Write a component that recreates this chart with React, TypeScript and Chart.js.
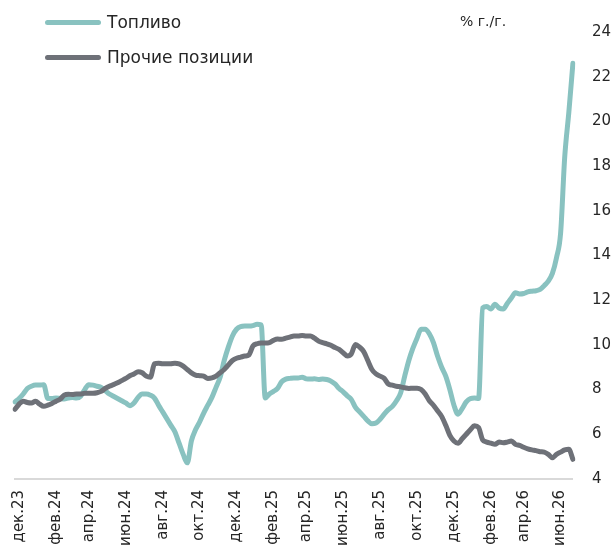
import React, { useEffect, useRef } from 'react';
import { Chart, registerables } from 'chart.js';

Chart.register(...registerables);

// Weekly observations, % y/y
const fuel = [
  7.45, 7.6, 7.8, 8.05, 8.15, 8.2, 8.2, 8.22, 7.6, 7.6,
  7.62, 7.6, 7.58, 7.62, 7.65, 7.62, 7.7, 8.0, 8.22, 8.2,
  8.15, 8.1, 7.95, 7.8, 7.7, 7.6, 7.5, 7.4, 7.28, 7.4,
  7.65, 7.8, 7.8, 7.75, 7.62, 7.3, 7.0, 6.7, 6.4, 6.1,
  5.6, 5.1, 4.72, 5.7, 6.2, 6.55, 6.95, 7.3, 7.65, 8.1,
  8.55, 9.3, 9.9, 10.4, 10.7, 10.82, 10.84, 10.84, 10.86, 10.92,
  10.9, 7.62, 7.8, 7.92, 8.05, 8.35, 8.47, 8.5, 8.52, 8.52,
  8.55, 8.48, 8.47, 8.48, 8.45, 8.47, 8.45, 8.38, 8.25, 8.05,
  7.9, 7.72, 7.55, 7.2, 7.0, 6.8, 6.6, 6.47, 6.5, 6.67,
  6.9, 7.1, 7.25, 7.5, 7.85, 8.6, 9.3, 9.85, 10.3, 10.7,
  10.7, 10.5, 10.1, 9.5, 9.0, 8.6, 8.0, 7.3, 6.9, 7.15,
  7.45, 7.6, 7.62, 7.6, 11.65, 11.72, 11.6, 11.82, 11.65, 11.6,
  11.85, 12.1, 12.33, 12.28, 12.3, 12.37, 12.4, 12.42, 12.48, 12.65,
  12.85, 13.2, 13.9, 15.0, 18.4, 20.4, 22.6,
];

const other = [
  7.12, 7.35, 7.48, 7.42, 7.4, 7.48, 7.35, 7.25, 7.3, 7.38,
  7.48, 7.57, 7.75, 7.79, 7.78, 7.8, 7.8, 7.84, 7.84, 7.84,
  7.86, 7.92, 8.05, 8.15, 8.22, 8.3, 8.4, 8.5, 8.62, 8.7,
  8.8, 8.75, 8.6, 8.55, 9.15, 9.18, 9.15, 9.15, 9.16, 9.18,
  9.15, 9.05, 8.9, 8.75, 8.65, 8.62, 8.6, 8.5, 8.52, 8.6,
  8.75, 8.9, 9.1, 9.3, 9.4, 9.45, 9.5, 9.55, 9.95, 10.05,
  10.08, 10.08, 10.1, 10.2, 10.26, 10.25, 10.3, 10.35, 10.4, 10.4,
  10.42, 10.4, 10.4, 10.3, 10.17, 10.1, 10.05, 9.98, 9.88, 9.8,
  9.65, 9.5, 9.6, 10.02, 9.9, 9.7, 9.3, 8.9, 8.7, 8.6,
  8.5, 8.25, 8.2, 8.15, 8.12, 8.08, 8.05, 8.06, 8.06, 8.0,
  7.8, 7.5, 7.3, 7.05, 6.8, 6.4, 5.95, 5.7, 5.6, 5.8,
  6.0, 6.2, 6.38, 6.3, 5.75, 5.65, 5.6, 5.55, 5.65, 5.62,
  5.65, 5.7, 5.55, 5.5, 5.42, 5.35, 5.3, 5.27, 5.22, 5.2,
  5.1, 4.95, 5.1, 5.2, 5.3, 5.33, 4.88,
];

const monthLabels = [
  'дек.23', 'фев.24', 'апр.24', 'июн.24', 'авг.24', 'окт.24', 'дек.24', 'фев.25',
  'апр.25', 'июн.25', 'авг.25', 'окт.25', 'дек.25', 'фев.26', 'апр.26', 'июн.26',
];
// week number at which each month label falls
const monthLabelWeeks = [1, 10, 18, 27, 36, 45, 54, 63, 71, 80, 89, 98, 107, 116, 124, 133];

const seriesNames = ['Топливо', 'Прочие позиции'];
const yMin = 4;
const yMax = 24;
const yStep = 2;
const unitLabel = '% г./г.';

const TEAL = '#89c2c0';
const GRAY = '#6e7178';
const TEXT = '#262626';
const FONT = "'DejaVu Sans', sans-serif";

export default function App() {
  const ref = useRef<HTMLCanvasElement>(null);

  useEffect(() => {
    if (!ref.current) return;
    const labels = fuel.map((_, i) => {
      const k = monthLabelWeeks.indexOf(i);
      return k >= 0 ? monthLabels[k] : '';
    });
    const chart = new Chart(ref.current, {
      type: 'line',
      data: {
        labels,
        datasets: [
          {
            label: seriesNames[0],
            data: fuel,
            borderColor: TEAL,
            backgroundColor: TEAL,
            borderWidth: 5,
            pointRadius: 0,
            borderCapStyle: 'round',
            borderJoinStyle: 'round',
            cubicInterpolationMode: 'monotone',
            order: 2,
          },
          {
            label: seriesNames[1],
            data: other,
            borderColor: GRAY,
            backgroundColor: GRAY,
            borderWidth: 5,
            pointRadius: 0,
            borderCapStyle: 'round',
            borderJoinStyle: 'round',
            cubicInterpolationMode: 'monotone',
            order: 1,
          },
        ],
      },
      options: {
        animation: false,
        responsive: true,
        maintainAspectRatio: false,
        layout: { padding: { left: 15, top: 32, right: 2, bottom: 0 } },
        plugins: {
          legend: { display: false },
          tooltip: { enabled: false },
        },
        scales: {
          x: {
            grid: { display: false, drawTicks: false },
            border: { display: true, color: '#d9d9d9', width: 2 },
            ticks: {
              autoSkip: false,
              maxRotation: 90,
              minRotation: 90,
              padding: 11,
              color: TEXT,
              font: { family: FONT, size: 15 },
            },
          },
          y: {
            position: 'right',
            min: yMin,
            max: yMax,
            grid: { display: false, drawTicks: false },
            border: { display: false },
            ticks: {
              stepSize: yStep,
              padding: 19,
              color: TEXT,
              font: { family: FONT, size: 15 },
            },
          },
        },
      },
    });
    return () => chart.destroy();
  }, []);

  const legendText: React.CSSProperties = {
    position: 'absolute',
    left: 107,
    fontFamily: FONT,
    fontSize: 17,
    lineHeight: '20px',
    color: TEXT,
    whiteSpace: 'nowrap',
  };
  const legendLine: React.CSSProperties = {
    position: 'absolute',
    left: 45,
    width: 56,
    height: 5,
    borderRadius: 3,
  };

  return (
    <div style={{ position: 'fixed', left: 0, top: 0, width: 632, height: 557, background: '#fff' }}>
      <canvas ref={ref} />
      <div style={{ ...legendLine, top: 20, background: TEAL }} />
      <div style={{ ...legendText, top: 12 }}>{seriesNames[0]}</div>
      <div style={{ ...legendLine, top: 55, background: GRAY }} />
      <div style={{ ...legendText, top: 47 }}>{seriesNames[1]}</div>
      <div
        style={{
          position: 'absolute',
          left: 460,
          top: 12,
          fontFamily: FONT,
          fontSize: 14,
          lineHeight: '18px',
          color: TEXT,
          whiteSpace: 'nowrap',
        }}
      >
        {unitLabel}
      </div>
    </div>
  );
}
